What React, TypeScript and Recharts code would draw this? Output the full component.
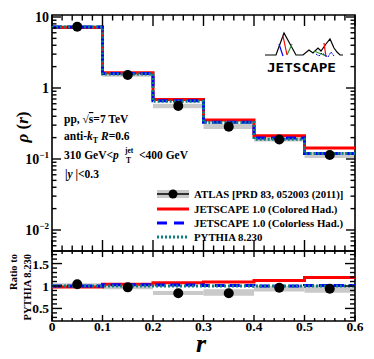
import React from "react";
import { ComposedChart, Line, Scatter, XAxis, YAxis, ReferenceArea } from "recharts";

// bins in r
const binEdges = [0, 0.1, 0.2, 0.3, 0.4, 0.5, 0.6];
const binCenters = [0.05, 0.15, 0.25, 0.35, 0.45, 0.55];

// upper panel: rho(r)
const atlasRho = [7.3, 1.52, 0.56, 0.285, 0.188, 0.114];
const atlasRhoLow = [6.9, 1.44, 0.52, 0.265, 0.176, 0.103];
const atlasRhoHigh = [7.7, 1.6, 0.6, 0.31, 0.2, 0.125];
const coloredRho = [7.1, 1.64, 0.69, 0.355, 0.212, 0.143];
const colorlessRho = [7.25, 1.6, 0.66, 0.33, 0.198, 0.12];
const pythiaRho = [7.25, 1.57, 0.65, 0.326, 0.19, 0.12];

// lower panel: ratio to PYTHIA 8.230
const atlasRatio = [1.04, 0.97, 0.84, 0.84, 0.96, 0.94];
const atlasRatioLow = [0.97, 0.93, 0.8, 0.78, 0.88, 0.85];
const atlasRatioHigh = [1.06, 1.02, 0.89, 0.93, 1.0, 1.02];
const coloredRatio = [0.98, 1.04, 1.07, 1.09, 1.12, 1.19];
const colorlessRatio = [1.0, 1.03, 1.02, 1.01, 1.0, 1.01];
const pythiaRatio = [1, 1, 1, 1, 1, 1];

// ticks
const xTicks = [
  0, 0.02, 0.04, 0.06, 0.08, 0.1, 0.12, 0.14, 0.16, 0.18, 0.2, 0.22, 0.24, 0.26, 0.28, 0.3,
  0.32, 0.34, 0.36, 0.38, 0.4, 0.42, 0.44, 0.46, 0.48, 0.5, 0.52, 0.54, 0.56, 0.58, 0.6,
];
const xMajor = [0, 0.1, 0.2, 0.3, 0.4, 0.5, 0.6];
const xLabels = ["0", "0.1", "0.2", "0.3", "0.4", "0.5", "0.6"];
const rhoTicks = [
  0.006, 0.007, 0.008, 0.009, 0.01, 0.02, 0.03, 0.04, 0.05, 0.06, 0.07, 0.08, 0.09,
  0.1, 0.2, 0.3, 0.4, 0.5, 0.6, 0.7, 0.8, 0.9, 1, 2, 3, 4, 5, 6, 7, 8, 9, 10,
];
const rhoMajor = [0.01, 0.1, 1, 10];
const ratioTicks = [0.3, 0.4, 0.5, 0.6, 0.7, 0.8, 0.9, 1, 1.1, 1.2, 1.3, 1.4, 1.5, 1.6, 1.7];
const ratioMajor = [0.5, 1, 1.5];
const ratioLabels = ["0.5", "1", "1.5"];

const RHO_DOMAIN = [0.00506, 10.67];
const RATIO_DOMAIN = [0.22, 1.78];

const FONT = "'Liberation Serif', 'DejaVu Serif', serif";
const RED = "#ff0000";
const BLUE = "#0000ff";
const TEAL = "#0b7f7c";
const GREY = "#c9c9c9";

const LEFT = 52;
const RIGHT = 355;
// upper chart plot: y 15..251 ; lower chart (offset 246): local y 5..75
const UP_TOP = 15;
const UP_BOT = 251;
const LO_TOP = 5;
const LO_BOT = 75;

const isIn = (v: number, list: number[]) => list.some((m) => Math.abs(m - v) < 1e-9);

const stepRows = (a: number[], b: number[], c: number[]) =>
  binEdges.map((x, i) => {
    const k = Math.min(i, a.length - 1);
    return { x, colored: a[k], colorless: b[k], pythia: c[k] };
  });

const upperSteps = stepRows(coloredRho, colorlessRho, pythiaRho);
const lowerSteps = stepRows(coloredRatio, colorlessRatio, pythiaRatio);
const upperPoints = binCenters.map((x, i) => ({ x, y: atlasRho[i] }));
const lowerPoints = binCenters.map((x, i) => ({ x, y: atlasRatio[i] }));

function xTickMarks(top: number, bottom: number, major: number, minor: number, labelled: boolean) {
  return (p: any) => {
    const v = p.payload.value;
    const len = isIn(v, xMajor) ? major : minor;
    const idx = xMajor.findIndex((m) => Math.abs(m - v) < 1e-9);
    return (
      <g>
        <line x1={p.x} x2={p.x} y1={bottom} y2={bottom - len} stroke="#000" strokeWidth={1.4} />
        <line x1={p.x} x2={p.x} y1={top} y2={top + len} stroke="#000" strokeWidth={1.4} />
        {labelled && idx >= 0 && (
          <text x={p.x} y={bottom + 10} textAnchor="middle" fontFamily={FONT} fontWeight="bold" fontSize={13.5} fill="#000">
            {xLabels[idx]}
          </text>
        )}
      </g>
    );
  };
}

function rhoTick(p: any) {
  const v = p.payload.value;
  const big = isIn(v, rhoMajor);
  const len = big ? 9 : 4.5;
  let label: React.ReactNode = null;
  if (big) {
    if (v === 10 || v === 1) {
      label = (
        <text x={LEFT - 3} y={p.y + 5} textAnchor="end" fontFamily={FONT} fontWeight="bold" fontSize={14} fill="#000">
          {v === 10 ? "10" : "1"}
        </text>
      );
    } else {
      label = (
        <text x={LEFT - 3} y={p.y + 5} textAnchor="end" fontFamily={FONT} fontWeight="bold" fontSize={14} fill="#000">
          10
          <tspan fontSize={9} dy={-6}>{v === 0.1 ? "\u22121" : "\u22122"}</tspan>
        </text>
      );
    }
  }
  return (
    <g>
      <line x1={LEFT} x2={LEFT + len} y1={p.y} y2={p.y} stroke="#000" strokeWidth={1.4} />
      <line x1={RIGHT} x2={RIGHT - len} y1={p.y} y2={p.y} stroke="#000" strokeWidth={1.4} />
      {label}
    </g>
  );
}

function ratioTick(p: any) {
  const v = p.payload.value;
  const idx = ratioMajor.findIndex((m) => Math.abs(m - v) < 1e-9);
  const len = idx >= 0 ? 10 : 5;
  return (
    <g>
      <line x1={LEFT} x2={LEFT + len} y1={p.y} y2={p.y} stroke="#000" strokeWidth={1.4} />
      <line x1={RIGHT} x2={RIGHT - len} y1={p.y} y2={p.y} stroke="#000" strokeWidth={1.4} />
      {idx >= 0 && (
        <text x={LEFT - 3} y={p.y + 5} textAnchor="end" fontFamily={FONT} fontWeight="bold" fontSize={13.5} fill="#000">
          {ratioLabels[idx]}
        </text>
      )}
    </g>
  );
}

const dot = (p: any) => <circle cx={p.cx} cy={p.cy} r={5} fill="#000" />;

function UpperPanel() {
  return (
    <ComposedChart width={374} height={253} margin={{ top: UP_TOP, right: 374 - RIGHT, bottom: 1, left: 0 }}>
      <XAxis type="number" dataKey="x" domain={[0, 0.6]} ticks={xTicks} interval={0} height={1}
        axisLine={false} tickLine={false} tick={xTickMarks(UP_TOP, UP_BOT, 11, 5.5, false)} allowDataOverflow />
      <YAxis type="number" scale="log" domain={RHO_DOMAIN} ticks={rhoTicks} interval={0} width={LEFT}
        axisLine={false} tickLine={false} tick={rhoTick} allowDataOverflow />
      {binCenters.map((c, i) => (
        <ReferenceArea key={i} x1={binEdges[i]} x2={binEdges[i + 1]} y1={atlasRhoLow[i]} y2={atlasRhoHigh[i]}
          fill={GREY} fillOpacity={1} stroke="none" />
      ))}
      <Line data={upperSteps} dataKey="colored" type="stepAfter" stroke={RED} strokeWidth={3} dot={false} activeDot={false} isAnimationActive={false} />
      <Line data={upperSteps} dataKey="colorless" type="stepAfter" stroke={BLUE} strokeWidth={3} strokeDasharray="10 5" dot={false} activeDot={false} isAnimationActive={false} />
      <Line data={upperSteps} dataKey="pythia" type="stepAfter" stroke={TEAL} strokeWidth={3} strokeDasharray="2 2" dot={false} activeDot={false} isAnimationActive={false} />
      <Scatter data={upperPoints} dataKey="y" shape={dot} isAnimationActive={false} />
      <ReferenceArea x1={0} x2={0.6} y1={RHO_DOMAIN[0]} y2={RHO_DOMAIN[1]} fill="none" stroke="#000" strokeWidth={1.6} />
    </ComposedChart>
  );
}

function LowerPanel() {
  return (
    <ComposedChart width={374} height={113} margin={{ top: LO_TOP, right: 374 - RIGHT, bottom: 0, left: 0 }}>
      <XAxis type="number" dataKey="x" domain={[0, 0.6]} ticks={xTicks} interval={0} height={38}
        axisLine={false} tickLine={false} tick={xTickMarks(LO_TOP, LO_BOT, 6, 3, true)} allowDataOverflow />
      <YAxis type="number" domain={RATIO_DOMAIN} ticks={ratioTicks} interval={0} width={LEFT}
        axisLine={false} tickLine={false} tick={ratioTick} allowDataOverflow />
      {binCenters.map((c, i) => (
        <ReferenceArea key={i} x1={binEdges[i]} x2={binEdges[i + 1]} y1={atlasRatioLow[i]} y2={atlasRatioHigh[i]}
          fill={GREY} fillOpacity={1} stroke="none" />
      ))}
      <Line data={lowerSteps} dataKey="colored" type="stepAfter" stroke={RED} strokeWidth={3} dot={false} activeDot={false} isAnimationActive={false} />
      <Line data={lowerSteps} dataKey="colorless" type="stepAfter" stroke={BLUE} strokeWidth={3} strokeDasharray="10 5" dot={false} activeDot={false} isAnimationActive={false} />
      <Line data={lowerSteps} dataKey="pythia" type="stepAfter" stroke={TEAL} strokeWidth={3} strokeDasharray="2 2" dot={false} activeDot={false} isAnimationActive={false} />
      <Scatter data={lowerPoints} dataKey="y" shape={dot} isAnimationActive={false} />
      <ReferenceArea x1={0} x2={0.6} y1={RATIO_DOMAIN[0]} y2={RATIO_DOMAIN[1]} fill="none" stroke="#000" strokeWidth={1.6} />
    </ComposedChart>
  );
}

function Overlay() {
  const t = { fontFamily: FONT, fontWeight: "bold" as const, fill: "#000" };
  return (
    <svg width={374} height={359} style={{ position: "absolute", left: 0, top: 0, pointerEvents: "none" }}>
      {/* axis titles */}
      <text {...t} fontSize={17} transform="translate(28,127) rotate(-90)" textAnchor="middle">
        <tspan fontStyle="italic">ρ</tspan> (<tspan fontStyle="italic">r</tspan>)
      </text>
      <text {...t} fontSize={10.5} transform="translate(17,254) rotate(-90)" textAnchor="end">Ratio to</text>
      <text {...t} fontSize={10.5} transform="translate(31,254) rotate(-90)" textAnchor="end">PYTHIA 8.230</text>
      <text {...t} fontSize={26} fontStyle="italic" x={201} y={352} textAnchor="middle">r</text>

      {/* annotations */}
      <text {...t} fontSize={11.5} x={64} y={123}>
        pp,  √<tspan textDecoration="overline">s</tspan>=7 TeV
      </text>
      <text {...t} fontSize={11.5} x={64} y={140}>
        anti-<tspan fontStyle="italic">k</tspan>
        <tspan fontSize={8} dy={3}>T</tspan>
        <tspan dy={-3}>  </tspan>
        <tspan fontStyle="italic">R</tspan>=0.6
      </text>
      <text {...t} fontSize={11.5} x={64} y={159}>310 GeV&lt;<tspan fontStyle="italic">p</tspan></text>
      <text {...t} fontSize={7.5} x={125} y={153}>jet</text>
      <text {...t} fontSize={7.5} x={126} y={163}>T</text>
      <text {...t} fontSize={11.5} x={139} y={159}>&lt;400 GeV</text>
      <text {...t} fontSize={11.5} x={65} y={178}>
        |<tspan fontStyle="italic">y</tspan> |&lt;0.3
      </text>

      {/* legend */}
      <rect x={157} y={190} width={32} height={8} fill={GREY} />
      <line x1={157} x2={189} y1={194} y2={194} stroke="#000" strokeWidth={1.5} />
      <circle cx={173} cy={194} r={4.5} fill="#000" />
      <line x1={157} x2={189} y1={209} y2={209} stroke={RED} strokeWidth={3} />
      <line x1={157} x2={189} y1={223} y2={223} stroke={BLUE} strokeWidth={3} strokeDasharray="10 7" />
      <line x1={157} x2={189} y1={237} y2={237} stroke={TEAL} strokeWidth={3} strokeDasharray="2 2" />
      <text {...t} fontSize={10.8} x={194} y={198}>ATLAS [PRD 83, 052003 (2011)]</text>
      <text {...t} fontSize={10.8} x={194} y={213}>JETSCAPE 1.0 (Colored Had.)</text>
      <text {...t} fontSize={10.8} x={194} y={227}>JETSCAPE 1.0 (Colorless Had.)</text>
      <text {...t} fontSize={10.8} x={194} y={241}>PYTHIA 8.230</text>

      {/* JETSCAPE logo */}
      <polyline points="265,55 276,55 284,33 296,55 303,55 309,50 313,53 318,48 321,51 326,44 330,39 334,48 337,52 340,55 343,55"
        fill="none" stroke="#000" strokeWidth={1.2} />
      <line x1={283} x2={287} y1={36} y2={55} stroke={RED} strokeWidth={1.2} />
      <line x1={279} x2={283} y1={44} y2={56} stroke={BLUE} strokeWidth={1.2} />
      <line x1={287} x2={292} y1={55} y2={44} stroke="#2a9a2a" strokeWidth={1.2} />
      <line x1={324} x2={326} y1={43} y2={57} stroke={RED} strokeWidth={1.2} />
      <line x1={314} x2={326} y1={51} y2={56} stroke="#2a9a2a" strokeWidth={1.2} />
      <polyline points="316,54 319,56 322,53 328,57 331,52 334,56" fill="none" stroke={BLUE} strokeWidth={1} strokeDasharray="2 1" />
      <text x={267} y={72} fontFamily="'DejaVu Sans Mono', monospace" fontWeight="bold" fontSize={13}
        textLength={69} lengthAdjust="spacingAndGlyphs" fill="#000">JETSCAPE</text>
    </svg>
  );
}

export default function App() {
  return (
    <div style={{ position: "absolute", left: 0, top: 0, width: 374, height: 359, background: "#fff" }}>
      <div style={{ position: "absolute", left: 0, top: 0 }}>
        <UpperPanel />
      </div>
      <div style={{ position: "absolute", left: 0, top: 246 }}>
        <LowerPanel />
      </div>
      <Overlay />
    </div>
  );
}
